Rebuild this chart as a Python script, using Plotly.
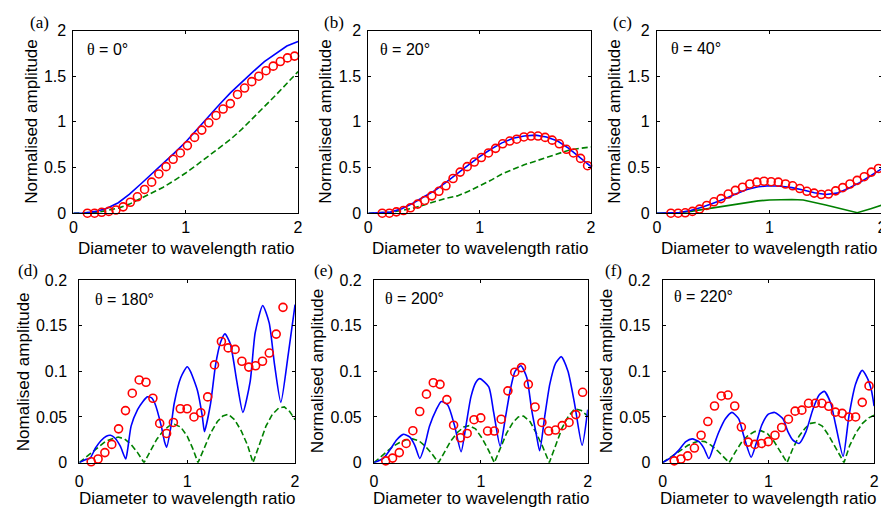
import plotly.graph_objects as go

# ---------------- data ----------------
LINE_X_TOP = [0, 0.1, 0.2, 0.3, 0.4, 0.5, 0.6, 0.7, 0.8, 0.9, 1.0,
              1.1, 1.2, 1.3, 1.4, 1.5, 1.6, 1.7, 1.8, 1.9, 2.0]
CIRCLE_X_TOP = [0.125, 0.189, 0.252, 0.316, 0.379, 0.443, 0.507, 0.570, 0.634, 0.697,
                0.761, 0.825, 0.888, 0.952, 1.015, 1.079, 1.143, 1.206, 1.270, 1.333,
                1.397, 1.461, 1.524, 1.588, 1.651, 1.715, 1.779, 1.842, 1.906, 1.969]
CIRCLE_X_BOT = [0.110, 0.174, 0.237, 0.301, 0.364, 0.428, 0.491, 0.555, 0.618, 0.682,
                0.745, 0.809, 0.872, 0.936, 0.999, 1.063, 1.126, 1.190, 1.253, 1.317,
                1.380, 1.444, 1.507, 1.571, 1.634, 1.698, 1.761, 1.825, 1.888, 1.952]

# (a) theta = 0
blue_a = [0, 0.003, 0.02, 0.055, 0.115, 0.21, 0.32, 0.43, 0.54, 0.66, 0.78,
          0.92, 1.06, 1.19, 1.32, 1.44, 1.55, 1.66, 1.75, 1.83, 1.88]
green_a = [0, 0.002, 0.01, 0.03, 0.056, 0.10, 0.16, 0.22, 0.285, 0.36, 0.44,
           0.53, 0.62, 0.71, 0.81, 0.92, 1.04, 1.16, 1.29, 1.42, 1.55]
circ_a = [0.0, 0.0, 0.01, 0.02, 0.035, 0.07, 0.12, 0.18, 0.26, 0.34,
          0.43, 0.51, 0.59, 0.66, 0.74, 0.83, 0.91, 0.99, 1.07, 1.14,
          1.20, 1.30, 1.37, 1.44, 1.50, 1.56, 1.61, 1.66, 1.70, 1.72]

# (b) theta = 20
blue_b = [0, 0.003, 0.012, 0.05, 0.11, 0.18, 0.25, 0.34, 0.44, 0.53, 0.62,
          0.70, 0.77, 0.82, 0.845, 0.855, 0.835, 0.79, 0.71, 0.61, 0.51]
green_b = [0, 0.002, 0.01, 0.03, 0.055, 0.09, 0.13, 0.165, 0.19, 0.24, 0.30,
           0.36, 0.43, 0.48, 0.53, 0.57, 0.61, 0.65, 0.69, 0.71, 0.725]
circ_b = [0.0, 0.0, 0.015, 0.03, 0.06, 0.10, 0.14, 0.19, 0.24, 0.30,
          0.38, 0.45, 0.51, 0.56, 0.61, 0.66, 0.71, 0.76, 0.79, 0.81,
          0.835, 0.845, 0.845, 0.83, 0.80, 0.76, 0.70, 0.66, 0.60, 0.52]

# (c) theta = 40
blue_c = [0, 0.002, 0.008, 0.03, 0.065, 0.11, 0.155, 0.21, 0.26, 0.29, 0.30,
          0.295, 0.28, 0.255, 0.225, 0.205, 0.22, 0.27, 0.335, 0.41, 0.49]
green_c_x = [0, 0.1, 0.2, 0.3, 0.4, 0.5, 0.6, 0.7, 0.8, 0.9, 1.0,
             1.1, 1.2, 1.3, 1.4, 1.5, 1.6, 1.7, 1.78, 1.9, 2.0]
green_c = [0, 0.002, 0.008, 0.02, 0.04, 0.06, 0.08, 0.10, 0.12, 0.135, 0.145,
           0.15, 0.15, 0.145, 0.12, 0.09, 0.06, 0.03, 0.005, 0.05, 0.09]
circ_c = [0.0, 0.0, 0.005, 0.02, 0.045, 0.085, 0.125, 0.16, 0.21, 0.25,
          0.285, 0.32, 0.34, 0.35, 0.345, 0.34, 0.32, 0.30, 0.27, 0.24,
          0.22, 0.205, 0.21, 0.245, 0.28, 0.32, 0.36, 0.40, 0.45, 0.49]

# (d) theta = 180
blue_d_x = [0, 0.05, 0.1, 0.15, 0.2, 0.25, 0.29, 0.33, 0.38, 0.43, 0.45, 0.48, 0.54, 0.59,
            0.63, 0.67, 0.70, 0.76, 0.79, 0.81, 0.85, 0.88, 0.94, 1.0, 1.03, 1.095, 1.14,
            1.16, 1.217, 1.263, 1.31, 1.35, 1.40, 1.46, 1.516, 1.584, 1.63, 1.70, 1.76,
            1.81, 1.868, 1.936, 2.0]
blue_d = [0, 0.003, 0.005, 0.016, 0.024, 0.029, 0.030, 0.027, 0.018, 0.004, 0.016, 0.040,
          0.058, 0.067, 0.072, 0.071, 0.065, 0.040, 0.023, 0.017, 0.040, 0.065, 0.093,
          0.105, 0.100, 0.079, 0.051, 0.034, 0.065, 0.107, 0.132, 0.141, 0.130, 0.089,
          0.055, 0.089, 0.142, 0.172, 0.153, 0.107, 0.066, 0.118, 0.173]
green_d_x = [0, 0.06, 0.12, 0.18, 0.24, 0.30, 0.36, 0.42, 0.48, 0.54, 0.60,
             0.66, 0.72, 0.78, 0.83, 0.88, 0.94, 1.0, 1.05, 1.10,
             1.16, 1.22, 1.28, 1.33, 1.38, 1.44, 1.50, 1.56, 1.61,
             1.67, 1.73, 1.79, 1.85, 1.90, 1.95, 2.0]
green_d = [0, 0.006, 0.012, 0.018, 0.023, 0.026, 0.028, 0.026, 0.020, 0.011, 0,
           0.013, 0.026, 0.035, 0.040, 0.042, 0.039, 0.029, 0.016, 0,
           0.017, 0.033, 0.045, 0.051, 0.053, 0.047, 0.035, 0.019, 0,
           0.021, 0.040, 0.053, 0.060, 0.061, 0.056, 0.047]
circ_d = [0.001, 0.004, 0.011, 0.020, 0.037, 0.057, 0.076, 0.0905, 0.088, 0.0705,
          0.043, 0.032, 0.044, 0.059, 0.059, 0.050, 0.0547, 0.072, 0.107, 0.1326,
          0.1256, 0.124, 0.111, 0.1046, 0.106, 0.111, 0.120, 0.1407, 0.170]

# (e) theta = 200
blue_e_x = [0, 0.09, 0.15, 0.213, 0.274, 0.336, 0.382, 0.429, 0.475, 0.52, 0.583, 0.63,
            0.69, 0.753, 0.815, 0.86, 0.907, 0.954, 0.99, 1.074, 1.12, 1.18, 1.228,
            1.274, 1.32, 1.375, 1.43, 1.475, 1.52, 1.55, 1.598, 1.645, 1.70, 1.753,
            1.815, 1.876, 1.947, 2.0]
blue_e = [0, 0.005, 0.014, 0.025, 0.031, 0.028, 0.019, 0.0045, 0.019, 0.040, 0.058, 0.067,
          0.063, 0.041, 0.012, 0.040, 0.072, 0.088, 0.092, 0.083, 0.055, 0.018, 0.048,
          0.079, 0.100, 0.106, 0.093, 0.058, 0.030, 0.013, 0.051, 0.086, 0.109, 0.116,
          0.100, 0.065, 0.019, 0.058]
green_e_x = [0, 0.06, 0.12, 0.18, 0.24, 0.30, 0.36, 0.42, 0.48, 0.54, 0.604,
             0.66, 0.72, 0.78, 0.84, 0.89, 0.95, 1.01, 1.07, 1.126,
             1.18, 1.24, 1.30, 1.35, 1.40, 1.46, 1.52, 1.58, 1.64,
             1.70, 1.76, 1.82, 1.88, 1.94, 2.0]
green_e = [0, 0.006, 0.012, 0.018, 0.022, 0.025, 0.026, 0.024, 0.018, 0.010, 0,
           0.012, 0.024, 0.033, 0.039, 0.0405, 0.037, 0.027, 0.014, 0,
           0.016, 0.032, 0.044, 0.050, 0.051, 0.045, 0.032, 0.017, 0,
           0.020, 0.038, 0.051, 0.059, 0.057, 0.051]
circ_e = [0.002, 0.005, 0.011, 0.021, 0.035, 0.056, 0.075, 0.0875, 0.0857, 0.069,
          0.041, 0.0272, 0.032, 0.047, 0.049, 0.0346, 0.0346, 0.0476, 0.0786, 0.099,
          0.104, 0.0857, 0.061, 0.044, 0.0346, 0.0357, 0.0405, 0.044, 0.0526, 0.077]

# (f) theta = 220
blue_f_x = [0, 0.094, 0.156, 0.22, 0.28, 0.344, 0.39, 0.438, 0.485, 0.53, 0.594, 0.656,
            0.72, 0.766, 0.838, 0.89, 0.937, 1.0, 1.06, 1.138, 1.185, 1.23, 1.29, 1.356,
            1.42, 1.48, 1.53, 1.59, 1.637, 1.707, 1.762, 1.825, 1.887, 1.934, 1.975, 2.0]
blue_f = [0, 0.007, 0.014, 0.023, 0.026, 0.023, 0.016, 0.0045, 0.019, 0.033, 0.048, 0.055,
          0.048, 0.030, 0.006, 0.023, 0.041, 0.053, 0.055, 0.048, 0.034, 0.025, 0.021, 0.034,
          0.058, 0.074, 0.078, 0.065, 0.041, 0.007, 0.051, 0.086, 0.101, 0.093, 0.079, 0.062]
green_f_x = [0, 0.06, 0.12, 0.18, 0.24, 0.30, 0.344, 0.40, 0.46, 0.52, 0.58, 0.63,
             0.69, 0.75, 0.81, 0.87, 0.93, 0.99, 1.05, 1.11, 1.177,
             1.23, 1.29, 1.35, 1.40, 1.45, 1.51, 1.57, 1.63, 1.715,
             1.77, 1.83, 1.89, 1.95, 2.0]
green_f = [0, 0.005, 0.010, 0.015, 0.019, 0.022, 0.0236, 0.023, 0.019, 0.013, 0.006, 0,
           0.012, 0.023, 0.030, 0.034, 0.035, 0.032, 0.024, 0.013, 0,
           0.015, 0.029, 0.038, 0.043, 0.044, 0.040, 0.030, 0.017, 0,
           0.019, 0.033, 0.043, 0.049, 0.052]
circ_f = [0.002, 0.004, 0.0074, 0.016, 0.030, 0.045, 0.062, 0.073, 0.074, 0.062,
          0.039, 0.0225, 0.020, 0.021, 0.023, 0.030, 0.0385, 0.0476, 0.0564, 0.0575,
          0.065, 0.065, 0.065, 0.0617, 0.0553, 0.054, 0.050, 0.050, 0.066, 0.084]

PANEL_LABELS = ["(a)", "(b)", "(c)", "(d)", "(e)", "(f)"]
THETAS = ["0", "20", "40", "180", "200", "220"]
Y_TITLES = ["Normalised amplitude", "Normalised amplitude", "Normalised amplitude",
            "Nomalised amplitude", "Normalised amplitude", "Normalised amplitude"]
X_TITLE = "Diameter to wavelength ratio"
X_TICKS = [0, 1, 2]
Y_TICKS_TOP = [0, 0.5, 1, 1.5, 2]
Y_TICKTEXT_TOP = ["0", "0.5", "1", "1.5", "2"]
Y_TICKS_BOT = [0, 0.05, 0.1, 0.15, 0.2]
Y_TICKTEXT_BOT = ["0", "0.05", "0.1", "0.15", "0.2"]

# ---------------- layout geometry (screen pixels) ----------------
# The page body has an 8px margin, so the figure starts 8px in from the corner.
OFF = 8
W, H = 889 - OFF, 520 - OFF


def px_x(px):
    return (px - OFF) / W


def px_y(py):
    return 1 - (py - OFF) / H


# (left, right, top, bottom) of each plot box in screen pixels
BOXES = [(70, 297, 23, 212), (368, 593, 23, 212), (659.5, 887, 23, 212),
         (76, 294, 281, 470), (373.7, 589.7, 281, 470), (665.3, 879, 281, 470)]
PANEL_POS = [(35.5, 15), (333, 15), (625, 15), (24, 271), (323, 271), (616, 271)]
THETA_POS = [(82, 43), (378, 43), (672, 42), (90, 301), (383, 300), (675, 298)]
YTITLE_X = [28, 325, 617, 19, 316, 608]

BLUE = "#0000ff"
GREEN = "#008000"
RED = "#ff0000"
SANS = "Liberation Sans, Arial, sans-serif"
SERIF = "Liberation Serif, Times New Roman, serif"

panels = [
    (LINE_X_TOP, blue_a, LINE_X_TOP, green_a, CIRCLE_X_TOP, circ_a, "dash"),
    (LINE_X_TOP, blue_b, LINE_X_TOP, green_b, CIRCLE_X_TOP, circ_b, "dash"),
    (LINE_X_TOP, blue_c, green_c_x, green_c, CIRCLE_X_TOP, circ_c, "solid"),
    (blue_d_x, blue_d, green_d_x, green_d, CIRCLE_X_BOT[:len(circ_d)], circ_d, "dash"),
    (blue_e_x, blue_e, green_e_x, green_e, CIRCLE_X_BOT, circ_e, "dash"),
    (blue_f_x, blue_f, green_f_x, green_f, CIRCLE_X_BOT, circ_f, "dash"),
]

fig = go.Figure()
annotations = []
layout_axes = {}

for i, (bx, by, gx, gy, cx, cy, gdash) in enumerate(panels):
    n = i + 1
    xa = "x" if n == 1 else f"x{n}"
    ya = "y" if n == 1 else f"y{n}"
    top = i < 3
    dash = "6px,3px" if gdash == "dash" else "solid"
    fig.add_trace(go.Scatter(x=gx, y=gy, mode="lines", xaxis=xa, yaxis=ya,
                             line=dict(color=GREEN, width=1.6, dash=dash),
                             showlegend=False, hoverinfo="skip"))
    fig.add_trace(go.Scatter(x=bx, y=by, mode="lines", xaxis=xa, yaxis=ya,
                             line=dict(color=BLUE, width=1.6,
                                       shape="linear" if top else "spline",
                                       smoothing=0.6),
                             showlegend=False, hoverinfo="skip"))
    fig.add_trace(go.Scatter(x=cx, y=cy, mode="markers", xaxis=xa, yaxis=ya,
                             marker=dict(symbol="circle-open", size=8, color=RED,
                                         line=dict(color=RED, width=1.6)),
                             cliponaxis=False, showlegend=False, hoverinfo="skip"))

    l, r, t, b = BOXES[i]
    xkey = "xaxis" if n == 1 else f"xaxis{n}"
    ykey = "yaxis" if n == 1 else f"yaxis{n}"
    layout_axes[xkey] = dict(
        domain=[px_x(l), px_x(r)], anchor=ya, range=[0, 2],
        tickvals=X_TICKS, ticktext=[str(v) for v in X_TICKS],
        showline=True, linecolor="black", linewidth=1, mirror="ticks",
        ticks="inside", ticklen=3, tickcolor="black", tickwidth=1,
        showgrid=False, zeroline=False, ticklabelstandoff=0 if top else 4,
        tickfont=dict(family=SANS, size=16, color="black"), fixedrange=True)
    layout_axes[ykey] = dict(
        domain=[px_y(b), px_y(t)], anchor=xa,
        range=[0, 2] if top else [0, 0.2],
        tickvals=Y_TICKS_TOP if top else Y_TICKS_BOT,
        ticktext=Y_TICKTEXT_TOP if top else Y_TICKTEXT_BOT,
        showline=True, linecolor="black", linewidth=1, mirror="ticks",
        ticks="inside", ticklen=3, tickcolor="black", tickwidth=1,
        showgrid=False, zeroline=False, ticklabelstandoff=3 if top else 8,
        tickfont=dict(family=SANS, size=16, color="black"), fixedrange=True)

    # axis titles
    annotations.append(dict(x=px_x((l + r) / 2), y=px_y(248 if top else 507),
                            xref="paper", yref="paper", text=X_TITLE, showarrow=False,
                            xanchor="center", yanchor="middle",
                            font=dict(family=SANS, size=17, color="black")))
    annotations.append(dict(x=px_x(YTITLE_X[i]), y=px_y((t + b) / 2),
                            xref="paper", yref="paper", text=Y_TITLES[i], showarrow=False,
                            textangle=-90, xanchor="center", yanchor="middle",
                            font=dict(family=SANS, size=17, color="black")))
    # panel label
    px, py = PANEL_POS[i]
    annotations.append(dict(x=px_x(px), y=px_y(py), xref="paper", yref="paper",
                            text=PANEL_LABELS[i], showarrow=False,
                            xanchor="center", yanchor="middle",
                            font=dict(family=SERIF, size=17, color="black")))
    # theta label
    tx, ty = THETA_POS[i]
    annotations.append(dict(x=px_x(tx), y=px_y(ty), xref="paper", yref="paper",
                            text=f"<span style='font-family:{SERIF}'>θ</span> = {THETAS[i]}°",
                            showarrow=False, xanchor="left", yanchor="middle",
                            font=dict(family=SANS, size=16, color="black")))

fig.update_layout(width=W, height=H, margin=dict(l=0, r=0, t=0, b=0),
                  paper_bgcolor="white", plot_bgcolor="white",
                  annotations=annotations, **layout_axes)

fig.write_html("out.html")
